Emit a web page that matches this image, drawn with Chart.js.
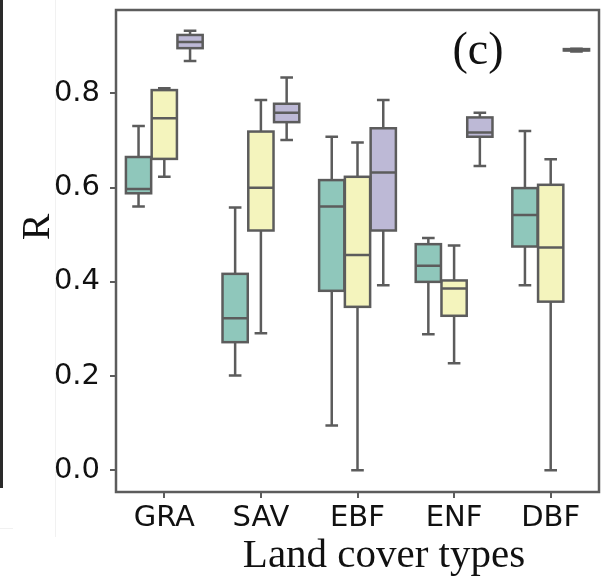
<!DOCTYPE html>
<html>
<head>
<meta charset="utf-8">
<script src="https://cdn.jsdelivr.net/npm/chart.js@4.4.1/dist/chart.umd.min.js"></script>
<style>
	html, body { margin: 0; padding: 0; background: #fff; }
	#chart { display: block; }
</style>
</head>
<body>
<canvas id="chart" width="605" height="578"></canvas>
<script>
const categories = ['GRA', 'SAV', 'EBF', 'ENF', 'DBF']
const yTicks = [0.0, 0.2, 0.4, 0.6, 0.8]

// box statistics per land cover type: whisker low, q1, median, q3, whisker high
const tealLow = [0.560, 0.201, 0.095, 0.289, 0.393]
const tealQ1 = [0.588, 0.272, 0.381, 0.400, 0.475]
const tealMed = [0.597, 0.323, 0.560, 0.434, 0.542]
const tealQ3 = [0.665, 0.417, 0.616, 0.480, 0.599]
const tealHigh = [0.731, 0.558, 0.708, 0.493, 0.720]

const yellowLow = [0.623, 0.291, 0.000, 0.227, 0.000]
const yellowQ1 = [0.661, 0.509, 0.347, 0.328, 0.358]
const yellowMed = [0.747, 0.600, 0.457, 0.386, 0.473]
const yellowQ3 = [0.807, 0.719, 0.623, 0.403, 0.606]
const yellowHigh = [0.811, 0.786, 0.696, 0.477, 0.660]

const lavenderLow = [0.869, 0.701, 0.393, 0.646, 0.889]
const lavenderQ1 = [0.896, 0.739, 0.509, 0.708, 0.891]
const lavenderMed = [0.909, 0.759, 0.632, 0.717, 0.892]
const lavenderQ3 = [0.924, 0.778, 0.726, 0.749, 0.894]
const lavenderHigh = [0.933, 0.834, 0.786, 0.759, 0.895]

const edge = '#5c5c5c'
const lineW = 2.5

function boxSet(color, q1, q3, low, med, high) {
	return {
		data: q1.map((v, i) => [v, q3[i]]),
		backgroundColor: color,
		borderWidth: 0,
		low,
		med,
		high
	}
}

// whiskers, caps, medians and box outlines on top of the floating bars
const boxPlot = {
	id: 'boxPlot',
	afterDatasetsDraw(chart) {
		const ctx = chart.ctx
		const y = chart.scales.y
		ctx.save()
		ctx.strokeStyle = edge
		ctx.lineWidth = lineW
		chart.data.datasets.forEach((ds, i) => {
			chart.getDatasetMeta(i).data.forEach((el, j) => {
				const x = el.x
				const w = el.width
				const top = Math.min(el.y, el.base)
				const bot = Math.max(el.y, el.base)
				const hi = y.getPixelForValue(ds.high[j])
				const lo = y.getPixelForValue(ds.low[j])
				const md = y.getPixelForValue(ds.med[j])
				ctx.beginPath()
				ctx.moveTo(x, top); ctx.lineTo(x, hi)
				ctx.moveTo(x - w / 4, hi); ctx.lineTo(x + w / 4, hi)
				ctx.moveTo(x, bot); ctx.lineTo(x, lo)
				ctx.moveTo(x - w / 4, lo); ctx.lineTo(x + w / 4, lo)
				ctx.moveTo(x - w / 2, md); ctx.lineTo(x + w / 2, md)
				ctx.stroke()
				ctx.strokeRect(x - w / 2, top, w, bot - top)
			})
		})
		ctx.restore()
	}
}

// frame, panel letter, axis titles and the neighbouring panel edge
const decorations = {
	id: 'decorations',
	beforeDraw(chart) {
		const ctx = chart.ctx
		ctx.save()
		ctx.fillStyle = '#fff'
		ctx.fillRect(0, 0, chart.width, chart.height)
		ctx.strokeStyle = '#f1f1f1'
		ctx.lineWidth = 1
		ctx.beginPath()
		ctx.moveTo(55.5, 0); ctx.lineTo(55.5, 537)
		ctx.moveTo(0, 528.5); ctx.lineTo(13, 528.5)
		ctx.stroke()
		ctx.strokeStyle = '#2a2a2a'
		ctx.lineWidth = 3
		ctx.beginPath()
		ctx.moveTo(1.5, 0); ctx.lineTo(1.5, 488)
		ctx.stroke()
		ctx.restore()
	},
	afterDraw(chart) {
		const ctx = chart.ctx
		const a = chart.chartArea
		ctx.save()
		ctx.strokeStyle = edge
		ctx.lineWidth = lineW
		ctx.strokeRect(a.left, a.top, a.right - a.left, a.bottom - a.top)
		ctx.fillStyle = '#111'
		ctx.textAlign = 'center'
		ctx.textBaseline = 'alphabetic'
		ctx.font = '46px "Liberation Serif", "Times New Roman", serif'
		ctx.fillText('(c)', 478, 64)
		ctx.font = '41px "Liberation Serif", "Times New Roman", serif'
		ctx.fillText('Land cover types', 384, 567)
		ctx.translate(49, 227)
		ctx.rotate(-Math.PI / 2)
		ctx.font = '40px "Liberation Serif", "Times New Roman", serif'
		ctx.fillText('R', 0, 0)
		ctx.restore()
	}
}

const tickFont = { family: 'DejaVu Sans', size: 29 }

new Chart(document.getElementById('chart'), {
	type: 'bar',
	data: {
		labels: categories,
		datasets: [
			boxSet('#8fc7bb', tealQ1, tealQ3, tealLow, tealMed, tealHigh),
			boxSet('#f4f4bd', yellowQ1, yellowQ3, yellowLow, yellowMed, yellowHigh),
			boxSet('#bdb9d6', lavenderQ1, lavenderQ3, lavenderLow, lavenderMed, lavenderHigh)
		]
	},
	options: {
		responsive: false,
		animation: false,
		layout: { padding: { left: 0, top: 10, right: 6, bottom: 0 } },
		datasets: { bar: { categoryPercentage: 0.8, barPercentage: 0.98 } },
		plugins: {
			legend: { display: false },
			tooltip: { enabled: false }
		},
		scales: {
			x: {
				offset: true,
				afterFit: (scale) => {
					scale.height = 86
					scale.paddingLeft = 0
					scale.paddingRight = 0
				},
				grid: { offset: false, drawOnChartArea: false, tickLength: 6, color: edge, lineWidth: 2 },
				border: { display: false },
				ticks: { font: tickFont, color: '#111', padding: 3 }
			},
			y: {
				min: -0.046,
				max: 0.977,
				afterFit: (scale) => {
					scale.width = 116
					scale.paddingTop = 0
					scale.paddingBottom = 0
				},
				afterBuildTicks: (scale) => { scale.ticks = yTicks.map((v) => ({ value: v })) },
				grid: { drawOnChartArea: false, tickLength: 6, color: edge, lineWidth: 2 },
				border: { display: false },
				ticks: { font: tickFont, color: '#111', padding: 10, callback: (v) => v.toFixed(1) }
			}
		}
	},
	plugins: [decorations, boxPlot]
})
</script>
</body>
</html>
